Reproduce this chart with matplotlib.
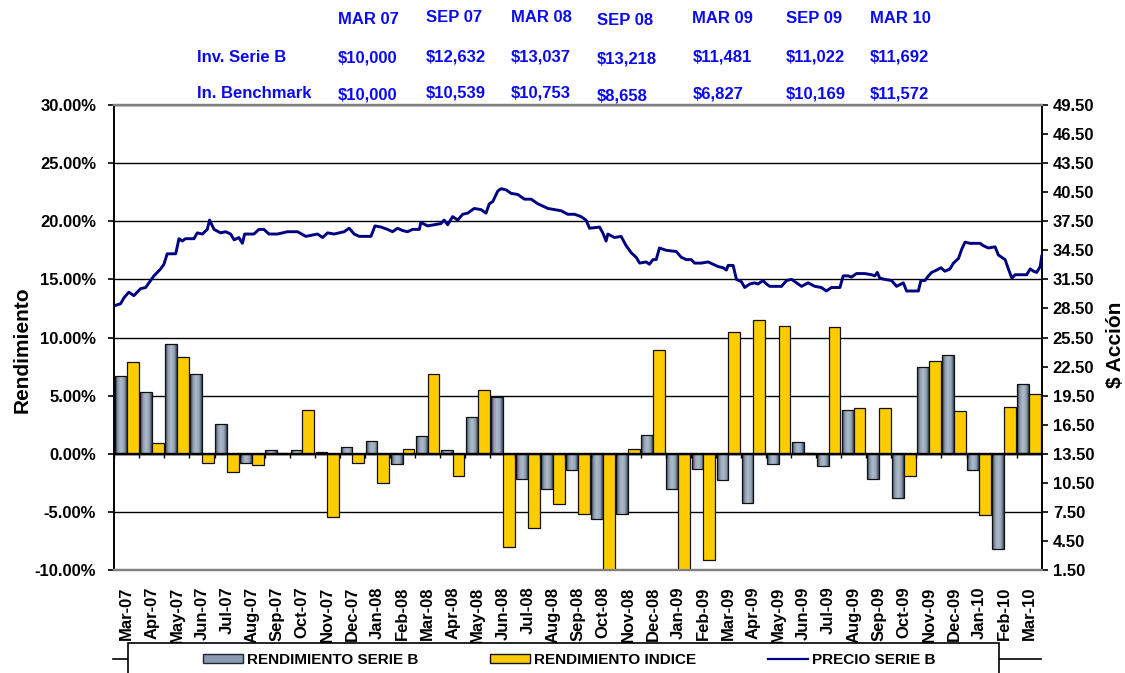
import numpy as np
import matplotlib
matplotlib.use("Agg")
import matplotlib.pyplot as plt
from matplotlib.colors import LinearSegmentedColormap
from matplotlib.lines import Line2D
from matplotlib.patches import Patch, Rectangle
from matplotlib.ticker import FixedLocator, FuncFormatter

# ---------------- data ----------------
months = ["Mar-07", "Apr-07", "May-07", "Jun-07", "Jul-07", "Aug-07", "Sep-07",
          "Oct-07", "Nov-07", "Dec-07", "Jan-08", "Feb-08", "Mar-08", "Apr-08",
          "May-08", "Jun-08", "Jul-08", "Aug-08", "Sep-08", "Oct-08", "Nov-08",
          "Dec-08", "Jan-09", "Feb-09", "Mar-09", "Apr-09", "May-09", "Jun-09",
          "Jul-09", "Aug-09", "Sep-09", "Oct-09", "Nov-09", "Dec-09", "Jan-10",
          "Feb-10", "Mar-10"]

# monthly returns, %
rend_serie_b = [6.7, 5.3, 9.4, 6.9, 2.6, -0.8, 0.3, 0.3, 0.15, 0.6, 1.1, -0.9,
                1.5, 0.3, 3.2, 4.9, -2.2, -3.0, -1.4, -5.6, -5.2, 1.6, -3.0,
                -1.3, -2.3, -4.2, -0.9, 1.05, -1.05, 3.8, -2.2, -3.8, 7.5, 8.5,
                -1.4, -8.2, 6.0]
rend_indice = [7.9, 0.9, 8.3, -0.8, -1.6, -1.0, 0.05, 3.8, -5.4, -0.8, -2.5,
               0.4, 6.9, -1.9, 5.5, -8.0, -6.4, -4.3, -5.2, -16.0, 0.4, 8.9,
               -14.5, -9.1, 10.5, 11.5, 11.0, 0.1, 10.9, 3.9, 3.9, -1.9, 8.0,
               3.7, -5.3, 4.0, 5.1]

# share price of Serie B; time in months elapsed since the start of Mar-07
precio_t = [0.05, 0.25, 0.38, 0.58, 0.78, 1.05, 1.25, 1.45, 1.58, 1.85,
            1.98, 2.11, 2.45, 2.58, 2.71, 2.84, 3.18, 3.31, 3.51, 3.71,
            3.80, 3.98, 4.24, 4.44, 4.64, 4.78, 4.97, 5.11, 5.20, 5.57,
            5.77, 5.97, 6.17, 6.51, 6.91, 7.31, 7.64, 8.11, 8.31, 8.51,
            8.77, 9.17, 9.37, 9.57, 9.77, 10.24, 10.40, 10.64, 10.90, 11.10,
            11.30, 11.50, 11.70, 11.90, 12.17, 12.23, 12.50, 12.76, 13.03, 13.16,
            13.30, 13.50, 13.70, 13.90, 14.10, 14.36, 14.63, 14.83, 14.96, 15.10,
            15.30, 15.43, 15.63, 15.83, 16.10, 16.36, 16.63, 16.90, 17.30, 17.56,
            17.83, 18.09, 18.36, 18.62, 18.82, 18.96, 19.36, 19.49, 19.62, 19.69,
            19.96, 20.22, 20.42, 20.62, 20.82, 20.96, 21.22, 21.35, 21.49, 21.62,
            21.75, 22.02, 22.42, 22.62, 22.82, 23.02, 23.15, 23.42, 23.69, 23.89,
            24.09, 24.29, 24.42, 24.49, 24.69, 24.82, 25.02, 25.15, 25.35, 25.55,
            25.68, 25.88, 26.02, 26.15, 26.62, 26.82, 27.02, 27.22, 27.42, 27.68,
            27.95, 28.21, 28.41, 28.61, 28.95, 29.08, 29.28, 29.41, 29.61, 29.94,
            30.21, 30.34, 30.44, 30.54, 30.74, 31.01, 31.21, 31.48, 31.61, 32.08,
            32.18, 32.34, 32.48, 32.61, 32.81, 32.98, 33.14, 33.34, 33.48, 33.68,
            33.81, 33.94, 34.14, 34.54, 34.67, 34.87, 35.14, 35.27, 35.54, 35.67,
            35.81, 35.94, 36.40, 36.54, 36.67, 36.80, 36.94, 37.00]
precio_serie_b = [28.82, 28.98, 29.58, 30.18, 29.82, 30.54, 30.66, 31.38, 31.86, 32.58,
                  33.06, 34.14, 34.14, 35.70, 35.46, 35.70, 35.70, 36.30, 36.18, 36.66,
                  37.62, 36.66, 36.30, 36.42, 36.18, 35.58, 35.82, 35.22, 36.18, 36.18,
                  36.66, 36.66, 36.18, 36.18, 36.42, 36.42, 35.94, 36.18, 35.82, 36.30,
                  36.18, 36.42, 36.78, 36.18, 35.94, 35.94, 37.02, 36.90, 36.66, 36.42,
                  36.78, 36.54, 36.42, 36.66, 36.66, 37.38, 37.02, 37.14, 37.26, 37.62,
                  37.14, 37.98, 37.62, 38.22, 38.34, 38.82, 38.70, 38.34, 39.30, 39.54,
                  40.62, 40.86, 40.74, 40.38, 40.26, 39.78, 39.78, 39.30, 38.82, 38.70,
                  38.58, 38.22, 38.22, 37.98, 37.62, 36.78, 36.90, 36.30, 35.46, 36.18,
                  35.82, 35.94, 34.98, 34.26, 33.78, 33.18, 33.30, 33.06, 33.54, 33.54,
                  34.74, 34.50, 34.38, 33.78, 33.54, 33.54, 33.18, 33.18, 33.30, 33.06,
                  32.82, 32.70, 32.46, 32.94, 32.94, 31.50, 31.26, 30.66, 31.02, 31.14,
                  31.02, 31.38, 31.02, 30.78, 30.78, 31.38, 31.50, 31.14, 30.78, 31.14,
                  30.78, 30.66, 30.30, 30.66, 30.66, 31.86, 31.86, 31.74, 32.10, 32.10,
                  31.98, 31.86, 32.22, 31.62, 31.50, 31.38, 30.78, 31.14, 30.30, 30.30,
                  31.38, 31.38, 31.86, 32.22, 32.46, 32.70, 32.34, 32.58, 33.18, 33.66,
                  34.62, 35.34, 35.22, 35.22, 34.98, 34.74, 34.86, 34.02, 33.54, 32.58,
                  31.62, 31.98, 31.98, 32.58, 32.34, 32.22, 32.82, 33.90]

# summary table above the chart
tabla_fechas = ["MAR 07", "SEP 07", "MAR 08", "SEP 08", "MAR 09", "SEP 09", "MAR 10"]
tabla_serie_b = ["$10,000", "$12,632", "$13,037", "$13,218", "$11,481", "$11,022", "$11,692"]
tabla_benchmark = ["$10,000", "$10,539", "$10,753", "$8,658", "$6,827", "$10,169", "$11,572"]
tabla_filas = ["Inv. Serie B", "In. Benchmark"]

serie_labels = ["RENDIMIENTO SERIE B", "RENDIMIENTO INDICE", "PRECIO SERIE B"]

# ---------------- style ----------------
plt.rcParams["font.family"] = ["Liberation Sans", "DejaVu Sans"]
plt.rcParams["font.weight"] = "bold"

W, H = 1125, 673
fig = plt.figure(figsize=(W / 100, H / 100), dpi=100)
fig.patch.set_facecolor("white")

def fx(px):
    return px / W

def fy(py):
    return 1 - py / H

ax_l, ax_r, ax_t, ax_b = 114.3, 1041.7, 105.0, 570.0
ax = fig.add_axes([fx(ax_l), fy(ax_b), (ax_r - ax_l) / W, (ax_b - ax_t) / H])

BLUE_TXT = "#0A0AF0"
YELLOW = "#FFCC00"
NAVY = "#000080"
gray_cmap = LinearSegmentedColormap.from_list(
    "slate", [(0.0, "#2e3c52"), (0.25, "#8e9db0"), (0.5, "#aebbca"),
              (0.78, "#92a1b4"), (1.0, "#34435a")])

n = len(months)
x = np.arange(n)
bw = 0.47

# bars
gray_rects = ax.bar(x - bw / 2, rend_serie_b, width=bw, facecolor="none",
                    edgecolor="#111111", linewidth=0.9, zorder=3)
grad = np.linspace(0, 1, 64).reshape(1, -1)
for r in gray_rects:
    x0, y0 = r.get_xy()
    w, h = r.get_width(), r.get_height()
    im = ax.imshow(grad, cmap=gray_cmap, aspect="auto", interpolation="bilinear",
                   extent=[x0, x0 + w, min(y0, y0 + h), max(y0, y0 + h)], zorder=2.9)
    im.set_clip_path(r)

ax.bar(x + bw / 2, rend_indice, width=bw, color=YELLOW, edgecolor="#111111",
       linewidth=0.9, zorder=3)

# zero axis with category ticks
ax.axhline(0, color="black", lw=1.7, zorder=4)
ax.vlines(np.arange(n + 1) - 0.5, -0.35, 0, color="black", lw=1.0, zorder=4)

ax.set_xlim(-0.5, n - 0.5)
ax.set_ylim(-10, 30)
ax.yaxis.set_major_locator(FixedLocator(np.arange(-10, 30.1, 5)))
ax.yaxis.set_major_formatter(FuncFormatter(lambda v, p: f"{v:.2f}%"))
ax.yaxis.grid(True, color="black", lw=1.0)
ax.set_axisbelow(True)
ax.set_xticks(x)
ax.set_xticklabels(months, rotation=90, fontsize=12, fontweight="bold")
ax.tick_params(axis="x", length=0, pad=12)
ax.tick_params(axis="y", direction="out", length=4, width=1.2, labelsize=12, pad=9)

# price on the secondary axis
ax2 = ax.twinx()
ax2.plot(np.array(precio_t) - 0.5, precio_serie_b, color=NAVY, lw=2.1,
         solid_joinstyle="round", zorder=5)
ax2.set_ylim(1.5, 49.5)
ax2.yaxis.set_major_locator(FixedLocator(np.arange(1.5, 49.6, 3)))
ax2.yaxis.set_major_formatter(FuncFormatter(lambda v, p: f"{v:.2f}"))
ax2.tick_params(axis="y", direction="out", length=4, width=1.2, labelsize=12, pad=4)
ax2.set_xlim(-0.5, n - 0.5)

for a in (ax, ax2):
    a.spines["top"].set_color("#808080")
    a.spines["bottom"].set_color("#808080")
    a.spines["top"].set_linewidth(1.6)
    a.spines["bottom"].set_linewidth(1.6)
ax.spines["left"].set_linewidth(1.4)
ax.spines["right"].set_visible(False)
ax2.spines["left"].set_visible(False)
ax2.spines["right"].set_linewidth(1.4)

# axis titles
ax.set_ylabel("Rendimiento", fontsize=15, fontweight="bold")
ax.yaxis.set_label_coords((21.7 - ax_l) / (ax_r - ax_l), (ax_b - 350) / (ax_b - ax_t))
ax.yaxis.label.set_va("center")
ax2.set_ylabel("$ Acción", fontsize=15, fontweight="bold", rotation=90)
ax2.yaxis.set_label_coords((1115 - ax_l) / (ax_r - ax_l), (ax_b - 345) / (ax_b - ax_t))
ax2.yaxis.label.set_va("center")
ax2.yaxis.label.set_rotation_mode("anchor")

# summary table
col_x = [337.7, 426.0, 510.7, 596.7, 692.3, 785.7, 870.0]
col_dy = [0.5, -1.0, -1.0, 2.0, 0.0, 0.0, 0.0]
row_y = [18.5, 57.5, 94.0]
for lab, yy in zip(tabla_filas, row_y[1:]):
    fig.text(fx(197.3), fy(yy), lab, color=BLUE_TXT, fontsize=12,
             fontweight="bold", ha="left", va="center")
for cx, dy, fecha, vb, vi in zip(col_x, col_dy, tabla_fechas, tabla_serie_b, tabla_benchmark):
    for txt, yy in zip((fecha, vb, vi), row_y):
        fig.text(fx(cx), fy(yy + dy), txt, color=BLUE_TXT, fontsize=12,
                 fontweight="bold", ha="left", va="center")

# legend
fig.add_artist(Line2D([fx(113), fx(1041)], [fy(659), fy(659)], color="black",
                      lw=1.2, zorder=1))
fig.add_artist(Rectangle((fx(128), fy(700)), (999 - 128) / W, (700 - 643) / H,
                         facecolor="white", edgecolor="black", lw=1.2, zorder=2))
handles = [Patch(facecolor="#8a99ad", edgecolor="#1a2535", lw=1.0),
           Patch(facecolor=YELLOW, edgecolor="#111111", lw=1.0),
           Line2D([], [], color=NAVY, lw=1.6)]
leg = fig.legend(handles, serie_labels, loc="center left",
                 bbox_to_anchor=(fx(203), fy(660)), ncol=3, frameon=False,
                 handlelength=2.6, handleheight=0.5, handletextpad=0.28,
                 columnspacing=4.7, borderpad=0, borderaxespad=0,
                 prop={"size": 11, "weight": "bold"})
leg.set_zorder(3)

fig.savefig("out.png", dpi=100, facecolor="white")
